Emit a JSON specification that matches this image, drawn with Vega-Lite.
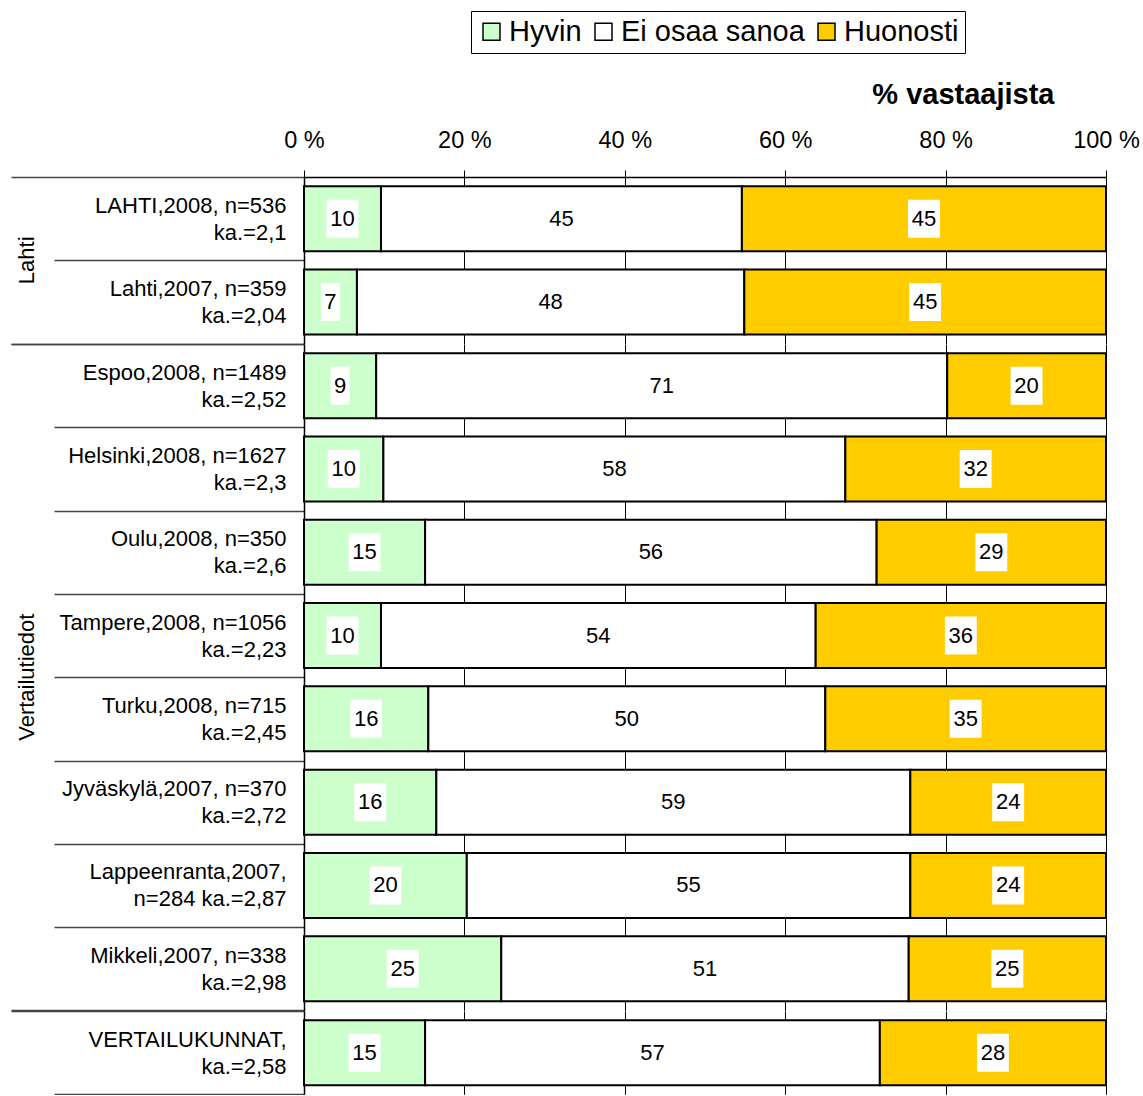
{
  "$schema": "https://vega.github.io/schema/vega-lite/v6.json",
  "padding": {"left": 10, "top": 10, "right": 5, "bottom": 0},
  "bounds": "flush",
  "config": {"view": {"stroke": null}, "font": "Liberation Sans"},
  "data": {"values": [
    {"g": "Lahti", "r": 1, "lab": "LAHTI,2008, n=536|ka.=2,1", "c": "Hyvin", "o": 1, "v": 9.6, "t": "10"},
    {"g": "Lahti", "r": 1, "lab": "LAHTI,2008, n=536|ka.=2,1", "c": "Ei osaa sanoa", "o": 2, "v": 45.0, "t": "45"},
    {"g": "Lahti", "r": 1, "lab": "LAHTI,2008, n=536|ka.=2,1", "c": "Huonosti", "o": 3, "v": 45.4, "t": "45"},
    {"g": "Lahti", "r": 2, "lab": "Lahti,2007, n=359|ka.=2,04", "c": "Hyvin", "o": 1, "v": 6.6, "t": "7"},
    {"g": "Lahti", "r": 2, "lab": "Lahti,2007, n=359|ka.=2,04", "c": "Ei osaa sanoa", "o": 2, "v": 48.3, "t": "48"},
    {"g": "Lahti", "r": 2, "lab": "Lahti,2007, n=359|ka.=2,04", "c": "Huonosti", "o": 3, "v": 45.1, "t": "45"},
    {"g": "Vertailutiedot", "r": 3, "lab": "Espoo,2008, n=1489|ka.=2,52", "c": "Hyvin", "o": 1, "v": 9.0, "t": "9"},
    {"g": "Vertailutiedot", "r": 3, "lab": "Espoo,2008, n=1489|ka.=2,52", "c": "Ei osaa sanoa", "o": 2, "v": 71.2, "t": "71"},
    {"g": "Vertailutiedot", "r": 3, "lab": "Espoo,2008, n=1489|ka.=2,52", "c": "Huonosti", "o": 3, "v": 19.8, "t": "20"},
    {"g": "Vertailutiedot", "r": 4, "lab": "Helsinki,2008, n=1627|ka.=2,3", "c": "Hyvin", "o": 1, "v": 9.9, "t": "10"},
    {"g": "Vertailutiedot", "r": 4, "lab": "Helsinki,2008, n=1627|ka.=2,3", "c": "Ei osaa sanoa", "o": 2, "v": 57.6, "t": "58"},
    {"g": "Vertailutiedot", "r": 4, "lab": "Helsinki,2008, n=1627|ka.=2,3", "c": "Huonosti", "o": 3, "v": 32.5, "t": "32"},
    {"g": "Vertailutiedot", "r": 5, "lab": "Oulu,2008, n=350|ka.=2,6", "c": "Hyvin", "o": 1, "v": 15.1, "t": "15"},
    {"g": "Vertailutiedot", "r": 5, "lab": "Oulu,2008, n=350|ka.=2,6", "c": "Ei osaa sanoa", "o": 2, "v": 56.3, "t": "56"},
    {"g": "Vertailutiedot", "r": 5, "lab": "Oulu,2008, n=350|ka.=2,6", "c": "Huonosti", "o": 3, "v": 28.6, "t": "29"},
    {"g": "Vertailutiedot", "r": 6, "lab": "Tampere,2008, n=1056|ka.=2,23", "c": "Hyvin", "o": 1, "v": 9.6, "t": "10"},
    {"g": "Vertailutiedot", "r": 6, "lab": "Tampere,2008, n=1056|ka.=2,23", "c": "Ei osaa sanoa", "o": 2, "v": 54.2, "t": "54"},
    {"g": "Vertailutiedot", "r": 6, "lab": "Tampere,2008, n=1056|ka.=2,23", "c": "Huonosti", "o": 3, "v": 36.2, "t": "36"},
    {"g": "Vertailutiedot", "r": 7, "lab": "Turku,2008, n=715|ka.=2,45", "c": "Hyvin", "o": 1, "v": 15.5, "t": "16"},
    {"g": "Vertailutiedot", "r": 7, "lab": "Turku,2008, n=715|ka.=2,45", "c": "Ei osaa sanoa", "o": 2, "v": 49.5, "t": "50"},
    {"g": "Vertailutiedot", "r": 7, "lab": "Turku,2008, n=715|ka.=2,45", "c": "Huonosti", "o": 3, "v": 35.0, "t": "35"},
    {"g": "Vertailutiedot", "r": 8, "lab": "Jyväskylä,2007, n=370|ka.=2,72", "c": "Hyvin", "o": 1, "v": 16.5, "t": "16"},
    {"g": "Vertailutiedot", "r": 8, "lab": "Jyväskylä,2007, n=370|ka.=2,72", "c": "Ei osaa sanoa", "o": 2, "v": 59.1, "t": "59"},
    {"g": "Vertailutiedot", "r": 8, "lab": "Jyväskylä,2007, n=370|ka.=2,72", "c": "Huonosti", "o": 3, "v": 24.4, "t": "24"},
    {"g": "Vertailutiedot", "r": 9, "lab": "Lappeenranta,2007,|n=284 ka.=2,87", "c": "Hyvin", "o": 1, "v": 20.3, "t": "20"},
    {"g": "Vertailutiedot", "r": 9, "lab": "Lappeenranta,2007,|n=284 ka.=2,87", "c": "Ei osaa sanoa", "o": 2, "v": 55.3, "t": "55"},
    {"g": "Vertailutiedot", "r": 9, "lab": "Lappeenranta,2007,|n=284 ka.=2,87", "c": "Huonosti", "o": 3, "v": 24.4, "t": "24"},
    {"g": "Vertailutiedot", "r": 10, "lab": "Mikkeli,2007, n=338|ka.=2,98", "c": "Hyvin", "o": 1, "v": 24.6, "t": "25"},
    {"g": "Vertailutiedot", "r": 10, "lab": "Mikkeli,2007, n=338|ka.=2,98", "c": "Ei osaa sanoa", "o": 2, "v": 50.8, "t": "51"},
    {"g": "Vertailutiedot", "r": 10, "lab": "Mikkeli,2007, n=338|ka.=2,98", "c": "Huonosti", "o": 3, "v": 24.6, "t": "25"},
    {"g": " ", "r": 11, "lab": "VERTAILUKUNNAT,|ka.=2,58", "c": "Hyvin", "o": 1, "v": 15.1, "t": "15"},
    {"g": " ", "r": 11, "lab": "VERTAILUKUNNAT,|ka.=2,58", "c": "Ei osaa sanoa", "o": 2, "v": 56.7, "t": "57"},
    {"g": " ", "r": 11, "lab": "VERTAILUKUNNAT,|ka.=2,58", "c": "Huonosti", "o": 3, "v": 28.2, "t": "28"}
  ]},
  "transform": [
    {"stack": "v", "groupby": ["lab"], "sort": [{"field": "o", "order": "ascending"}], "as": ["x0", "x1"]},
    {"calculate": "(datum.x0 + datum.x1) / 2", "as": "mid"}
  ],
  "facet": {
    "row": {
      "field": "g", "type": "nominal",
      "sort": {"field": "r", "op": "min"},
      "title": null,
      "header": {"labelAngle": -90, "labelOrient": "left", "labelFontSize": 22, "labelFont": "Liberation Sans", "labelColor": "black", "labelPadding": 255}
    }
  },
  "spacing": 0,
  "resolve": {"scale": {"y": "independent"}},
  "spec": {
    "width": 802,
    "height": {"step": 83.3},
    "encoding": {
      "y": {
        "field": "lab", "type": "nominal",
        "sort": {"field": "r", "op": "min"},
        "scale": {"paddingInner": 0, "paddingOuter": 0},
        "axis": {
          "title": null,
          "labelExpr": "split(datum.label, '|')",
          "labelFontSize": 22,
          "labelFont": "Liberation Sans",
          "labelColor": "black",
          "labelLineHeight": 27,
          "labelOffset": -13.5,
          "labelPadding": {"condition": {"test": "datum.index === 1", "value": -275}, "value": -232},
          "labelLimit": 400,
          "tickBand": "extent",
          "tickSize": {"condition": {"test": "datum.index === 1 || datum.index < 0", "value": 293}, "value": 250},
          "tickColor": "#444444",
          "tickWidth": 1.5,
          "domainColor": "black",
          "domainWidth": 1.5,
          "grid": false
        }
      }
    },
    "layer": [
      {
        "mark": {"type": "bar", "stroke": "black", "strokeWidth": 2, "height": {"band": 0.78}},
        "encoding": {
          "x": {
            "field": "x0", "type": "quantitative",
            "scale": {"domain": [0, 100]},
            "axis": {
              "orient": "top",
              "values": [0, 20, 40, 60, 80, 100],
              "labelExpr": "datum.value + ' %'",
              "labelFlush": false,
              "labelOverlap": false,
              "labelFontSize": 23.5,
              "labelFont": "Liberation Sans",
              "labelColor": "black",
              "labelPadding": 18,
              "tickSize": 7,
              "tickColor": "black",
              "domainColor": "black",
              "domainWidth": 1.5,
              "grid": true,
              "gridColor": "black",
              "gridWidth": 1,
              "gridOpacity": 1,
              "title": "% vastaajista",
              "titleFontSize": 29,
              "titleFont": "Liberation Sans",
              "titleFontWeight": "bold",
              "titleColor": "black",
              "titleAlign": "right",
              "titleBaseline": "alphabetic",
              "titleX": 750,
              "titleY": -74
            }
          },
          "x2": {"field": "x1"},
          "fill": {
            "field": "c", "type": "nominal",
            "scale": {"domain": ["Hyvin", "Ei osaa sanoa", "Huonosti"], "range": ["#ccffcc", "#ffffff", "#ffcc00"]},
            "legend": {
              "orient": "none",
              "legendX": 167,
              "legendY": -166,
              "direction": "horizontal",
              "title": null,
              "symbolType": "square",
              "symbolSize": 289,
              "symbolStrokeColor": "black",
              "symbolStrokeWidth": 1.5,
              "labelFontSize": 29,
              "labelFont": "Liberation Sans",
              "labelColor": "black",
              "labelLimit": 400,
              "labelOffset": 3,
              "columnPadding": 7,
              "strokeColor": "black",
              "padding": 6
            }
          }
        }
      },
      {
        "mark": {"type": "point", "filled": true, "fill": "white", "opacity": 1, "strokeWidth": 0, "size": 1444},
        "encoding": {
          "x": {"field": "mid", "type": "quantitative"},
          "shape": {"condition": {"test": "length(datum.t) < 2", "value": "M-0.5,-1H0.5V1H-0.5Z"}, "value": "M-0.84,-1H0.84V1H-0.84Z"}
        }
      },
      {
        "mark": {"type": "text", "fontSize": 22, "font": "Liberation Sans", "color": "black"},
        "encoding": {
          "x": {"field": "mid", "type": "quantitative"},
          "text": {"field": "t"}
        }
      }
    ]
  }
}
